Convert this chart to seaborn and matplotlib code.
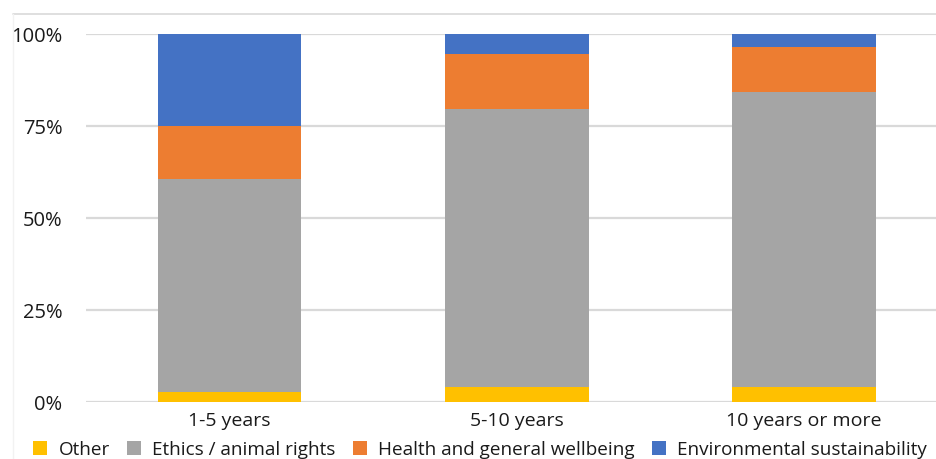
import matplotlib
matplotlib.use("Agg")
import matplotlib.pyplot as plt
from matplotlib.patches import Patch
from matplotlib.lines import Line2D
from matplotlib.ticker import FuncFormatter
import numpy as np
import pandas as pd
import seaborn as sns

# Motivation shares (%) by time since going vegan
groups = ["1-5 years", "5-10 years", "10 years or more"]
other = [2.6, 4.0, 4.0]
ethics = [57.9, 75.7, 80.2]
health = [14.6, 14.8, 12.3]
environment = [24.9, 5.5, 3.5]

series_names = ["Other", "Ethics / animal rights",
                "Health and general wellbeing", "Environmental sustainability"]
series_values = [other, ethics, health, environment]
colors = ["#FFC000", "#A5A5A5", "#ED7D31", "#4472C4"]

sns.set_theme(style="white")
plt.rcParams["font.family"] = ["Open Sans", "DejaVu Sans"]

df = pd.DataFrame({name: vals for name, vals in zip(series_names, series_values)})
df.insert(0, "group", groups)
cum = df[series_names].cumsum(axis=1)

W, H = 937, 459
fig = plt.figure(figsize=(W / 100, H / 100), dpi=100)
ax = fig.add_axes([86 / W, (H - 402) / H, 861.5 / W, 368 / H])

# stacked bars: draw cumulative totals from the top segment down
for name, color in reversed(list(zip(series_names, colors))):
    sns.barplot(x=df["group"], y=cum[name], color=color, width=0.5,
                saturation=1, ax=ax, zorder=3, linewidth=0)

ax.set_xlim(-0.5, 2.5)
ax.set_ylim(0, 100)
ax.set_yticks([0, 25, 50, 75, 100])
ax.yaxis.set_major_formatter(FuncFormatter(lambda v, p: f"{v:.0f}%"))
ax.grid(axis="y", color="#D9D9D9", linewidth=1.6, zorder=0)
ax.set_axisbelow(True)
for s in ax.spines.values():
    s.set_visible(False)
ax.set_xlabel("")
ax.set_ylabel("")
ax.tick_params(axis="y", length=0, pad=17, labelsize=14.5, labelcolor="#1A1A1A")
ax.tick_params(axis="x", length=0, pad=7, labelsize=14, labelcolor="#1A1A1A")

handles = [Patch(facecolor=c, edgecolor="none") for c in colors]
fig.legend(handles, series_names, loc="center", ncol=4,
           bbox_to_anchor=(480 / W, (H - 450) / H), frameon=False,
           fontsize=13.6, handlelength=0.75, handleheight=0.75,
           handletextpad=0.6, columnspacing=0.9, labelcolor="#1A1A1A")

# thin frame lines along the top and left edge
fig.add_artist(Line2D([13 / W, 1], [1 - 14 / H, 1 - 14 / H],
                      transform=fig.transFigure, color="#D9D9D9", linewidth=1.2))
fig.add_artist(Line2D([13 / W, 13 / W], [1 - 14 / H, 0],
                      transform=fig.transFigure, color="#F2F2F2", linewidth=1.0))

fig.savefig("out.png", dpi=100)
